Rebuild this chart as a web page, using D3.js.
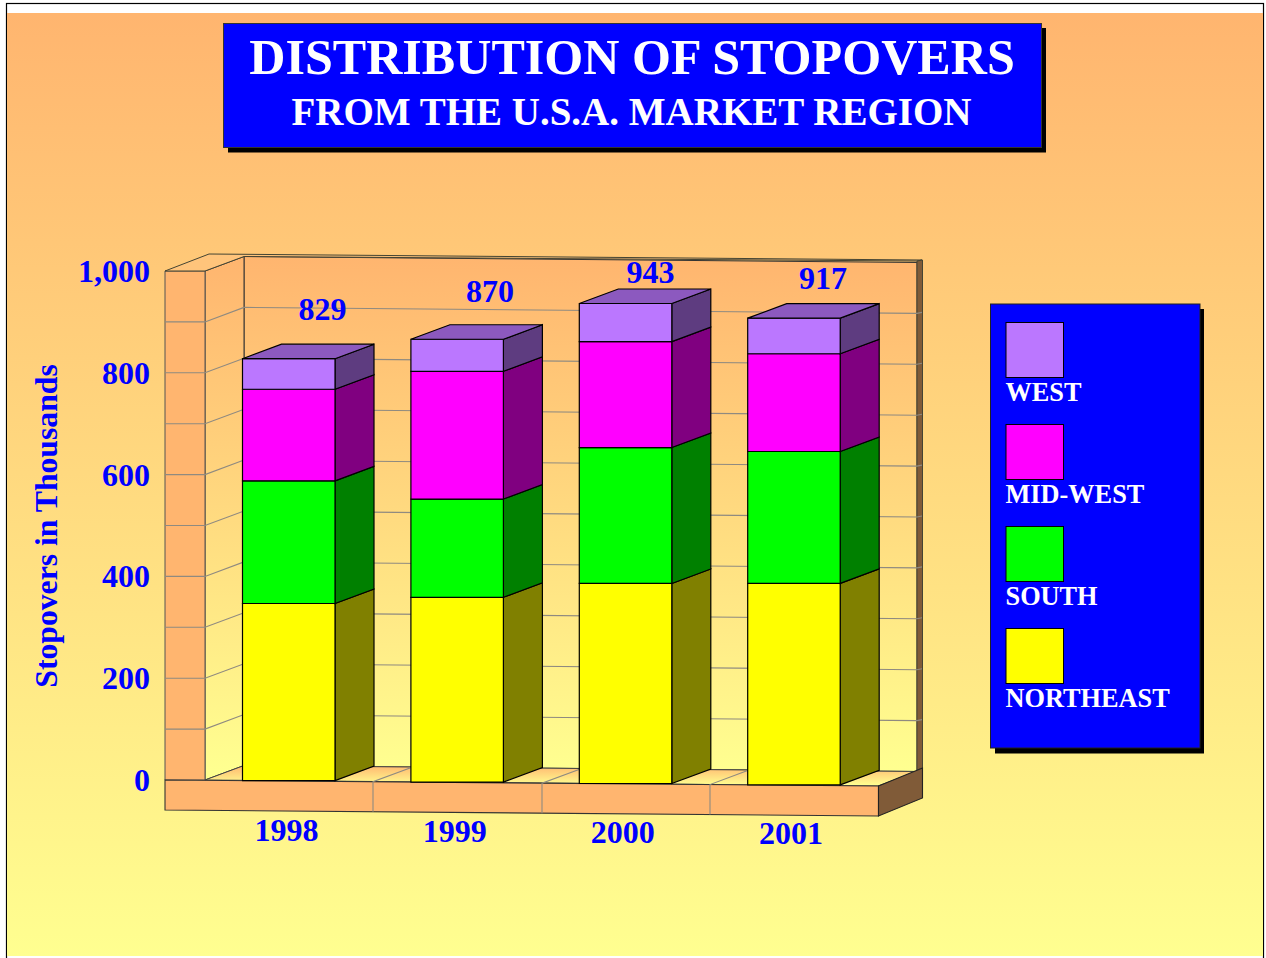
<!DOCTYPE html>
<html><head><meta charset="utf-8">
<script src="https://cdn.jsdelivr.net/npm/d3@7/dist/d3.min.js"></script>
<style>html,body{margin:0;padding:0;background:#fff;overflow:hidden}svg{display:block}text{font-family:"Liberation Serif",serif;font-weight:bold}</style>
</head><body><div id="c"></div>
<script>
const years = ["1998","1999","2000","2001"];
const seriesNames = ["NORTHEAST","SOUTH","MID-WEST","WEST"];
const northeast = [348,363,393,396];
const south = [241,193,267,259];
const midWest = [180,251,208,192];
const west = [60,63,75,70];
const totals = [829,870,943,917];
const yTicks = [0,200,400,600,800,1000];
const gridTicks = [100,200,300,400,500,600,700,800,900,1000];
const frontColors = ["#ffff00","#00ff00","#ff00ff","#bb77ff"];
const sideColors = ["#808000","#008000","#800080","#5e3c80"];
const topColor = "#8c59bf";
const series = [northeast,south,midWest,west];

const W=1266,H=958;
const svg=d3.select("#c").append("svg").attr("width",W).attr("height",H);
const defs=svg.append("defs");
function grad(id,y1,y2,c1,c2){const g=defs.append("linearGradient").attr("id",id).attr("gradientUnits","userSpaceOnUse").attr("x1",0).attr("x2",0).attr("y1",y1).attr("y2",y2);
 g.append("stop").attr("offset",0).attr("stop-color",c1);g.append("stop").attr("offset",1).attr("stop-color",c2);}
grad("bg",13,958,"#ffb56f","#ffff90");
grad("wall",256,770,"#ffb56f","#ffff90");
grad("floor",765,785,"#ffb56f","#ffff90");

// page
svg.append("rect").attr("x",6.5).attr("y",3.5).attr("width",1257).attr("height",960).attr("fill","#fff").attr("stroke","#000").attr("stroke-width",1.2);
svg.append("rect").attr("x",7).attr("y",13).attr("width",1256).attr("height",943).attr("fill","url(#bg)");

// title
svg.append("rect").attr("x",228).attr("y",28).attr("width",818).attr("height",124.5).attr("fill","#000");
svg.append("rect").attr("x",223.5).attr("y",23.5).attr("width",818).attr("height",124).attr("fill","#0000ff").attr("stroke","#333").attr("stroke-width",1);
svg.append("text").attr("x",632).attr("y",74).attr("text-anchor","middle").attr("font-size",50.1).attr("fill","#fff").text("DISTRIBUTION OF STOPOVERS");
svg.append("text").attr("x",631.5).attr("y",125).attr("text-anchor","middle").attr("font-size",39).attr("fill","#fff").text("FROM THE U.S.A. MARKET REGION");

// scales
const y=d3.scaleLinear().domain([0,1000]).range([780,271]);
const depthX=39, depthY=-14.5, tilt=6/714;   // oblique projection
const bw=92.5;
const barX=d3.scaleLinear().domain([0,3]).range([242.5,747.7]);
const labelX=d3.scaleLinear().domain([0,3]).range([286.5,791]);
const shift=xx=>(xx-165)*tilt;
const P=(a)=>a.map(p=>p.join(",")).join(" ");

const plot=svg.append("g");
// back wall
const bx0=244,bx1=917;
plot.append("polygon").attr("points",P([[bx0,y(1000)+depthY],[bx1,y(1000)+depthY+shift(bx1-39)],[bx1,y(0)+depthY+shift(bx1-39)],[bx0,y(0)+depthY]])).attr("fill","url(#wall)").attr("stroke","#333").attr("stroke-width",1);
// inner side wall
plot.append("polygon").attr("points",P([[205,y(1000)],[bx0,y(1000)+depthY],[bx0,y(0)+depthY],[205,y(0)]])).attr("fill","url(#wall)").attr("stroke","#333").attr("stroke-width",1);
// floor
plot.append("polygon").attr("points",P([[205,y(0)],[bx0,y(0)+depthY],[bx1,y(0)+depthY+shift(bx1-39)],[878,y(0)+shift(878)]])).attr("fill","url(#floor)").attr("stroke","#444").attr("stroke-width",1);
// left front wall face
plot.append("polygon").attr("points",P([[165,y(1000)],[205,y(1000)],[205,y(0)],[165,y(0)]])).attr("fill","#ffb56f").attr("stroke","#555").attr("stroke-width",1);
// wall top edge
plot.append("polygon").attr("points",P([[165,y(1000)],[209,254],[922,260],[917,261],[244,256.5],[205,y(1000)]])).attr("fill","#ffc47b").attr("stroke","#443").attr("stroke-width",1);
// right edge of back wall
plot.append("polygon").attr("points",P([[917,261],[922.5,260],[922.5,768],[917,770]])).attr("fill","#805b38").attr("stroke","#443").attr("stroke-width",1);
// grid
const gridColor="#8f8a80";
gridTicks.slice(0,-1).forEach(t=>{
 const yy=y(t);
 plot.append("polyline").attr("fill","none").attr("stroke",gridColor).attr("stroke-width",1.1)
  .attr("points",P([[165,yy],[205,yy],[bx0,yy+depthY],[bx1,yy+depthY+shift(bx1-39)],[922,yy+depthY+shift(bx1-39)-1]]));
});
// plinth
plot.append("polygon").attr("points",P([[165,y(0)],[878.5,y(0)+shift(878)],[878.5,810+shift(878)],[165,810]])).attr("fill","#ffb56f").attr("stroke","#333").attr("stroke-width",1.1);
plot.append("polygon").attr("points",P([[878.5,y(0)+shift(878)],[922.5,768],[922.5,798],[878.5,810+shift(878)]])).attr("fill","#805b38").attr("stroke","#222").attr("stroke-width",1.1);
// floor dividers
[373,542,710].forEach(xx=>{
 const t=y(0)+shift(xx);
 plot.append("polyline").attr("fill","none").attr("stroke",gridColor).attr("stroke-width",1.1)
  .attr("points",P([[xx,810+shift(xx)],[xx,t],[xx+39,t+depthY]]));
});

// bars
years.forEach((yr,i)=>{
 const g=plot.append("g");
 const x0=barX(i),x1=x0+bw;
 const b=shift(x0);
 let cum=0;
 series.forEach((s,k)=>{
  const lo=y(cum)+b, hi=y(cum+s[i])+b;
  cum+=s[i];
  g.append("polygon").attr("points",P([[x1,lo],[x1+depthX,lo+depthY],[x1+depthX,hi+depthY],[x1,hi]])).attr("fill",sideColors[k]).attr("stroke","#000").attr("stroke-width",1.2);
  g.append("polygon").attr("points",P([[x0,lo],[x1,lo],[x1,hi],[x0,hi]])).attr("fill",frontColors[k]).attr("stroke","#000").attr("stroke-width",1.2);
  if(k===3) g.append("polygon").attr("points",P([[x0,hi],[x1,hi],[x1+depthX,hi+depthY],[x0+depthX,hi+depthY]])).attr("fill",topColor).attr("stroke","#000").attr("stroke-width",1.2);
 });
});

// value labels, hand-placed above the bars in the original
const labelNudge=[[322.5,24],[490,23],[650.5,6],[823,14.5]];
totals.forEach((v,i)=>{
 const top=y(series.reduce((a,s)=>a+s[i],0))+shift(barX(i))+depthY;
 svg.append("text").attr("x",labelNudge[i][0]).attr("y",top-labelNudge[i][1]).attr("text-anchor","middle").attr("font-size",32).attr("fill","#0000ff").text(v);
});
// axis labels
const fmt=d3.format(",");
yTicks.forEach(t=>svg.append("text").attr("x",150).attr("y",y(t)+11).attr("text-anchor","end").attr("font-size",32).attr("fill","#0000ff").text(fmt(t)));
years.forEach((yr,i)=>svg.append("text").attr("x",labelX(i)).attr("y",840.5+i*1.05).attr("text-anchor","middle").attr("font-size",32).attr("fill","#0000ff").text(yr));
svg.append("text").attr("transform","translate(56.5,526) rotate(-90)").attr("text-anchor","middle").attr("font-size",31.7).attr("fill","#0000ff").text("Stopovers in Thousands");

// legend
svg.append("rect").attr("x",995).attr("y",309).attr("width",209).attr("height",444.5).attr("fill","#000");
svg.append("rect").attr("x",990.5).attr("y",304).attr("width",209.5).attr("height",444).attr("fill","#0000ff").attr("stroke","#222").attr("stroke-width",1);
d3.range(3,-1,-1).forEach((k,j)=>{
 const ty=322.5+j*102;
 svg.append("rect").attr("x",1006).attr("y",ty).attr("width",57.5).attr("height",55).attr("fill",frontColors[k]).attr("stroke","#000").attr("stroke-width",1);
 svg.append("text").attr("x",1005.5).attr("y",ty+78.5).attr("font-size",26.3).attr("fill","#fff").text(seriesNames[k]);
});
</script></body></html>
